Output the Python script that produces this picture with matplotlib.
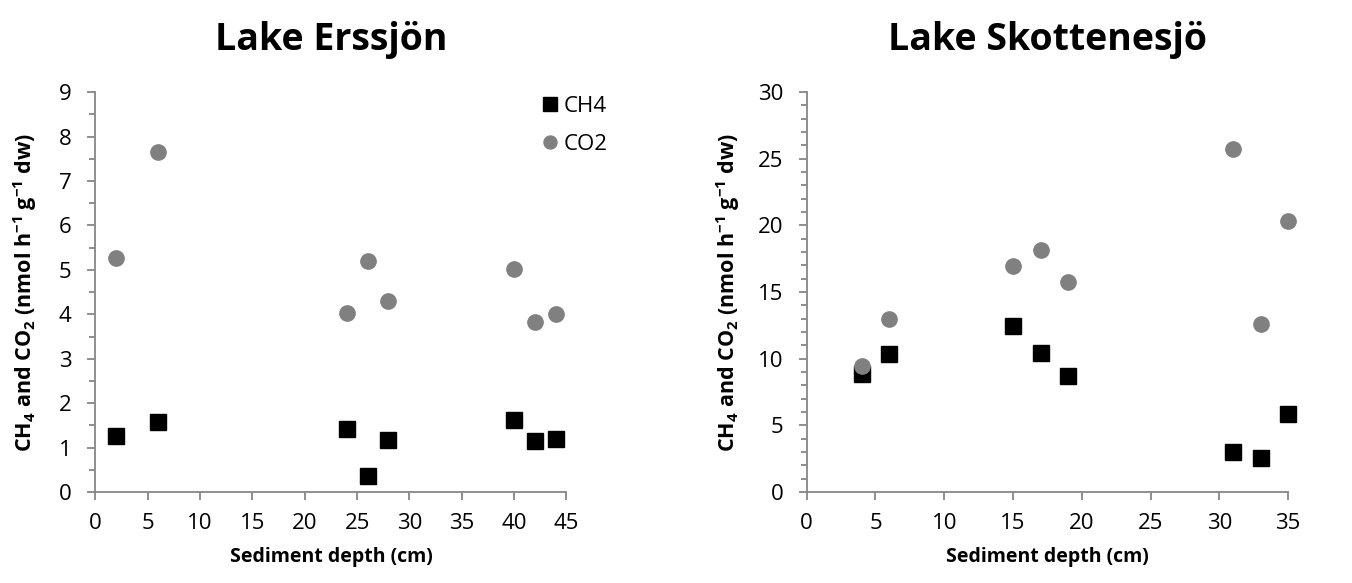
import matplotlib

matplotlib.use("Agg")

import matplotlib.pyplot as plt
from matplotlib.ticker import MultipleLocator

plt.rcParams["font.family"] = ["Open Sans", "DejaVu Sans"]
plt.rcParams["mathtext.fontset"] = "custom"
plt.rcParams["mathtext.rm"] = "Open Sans:bold"
plt.rcParams["mathtext.it"] = "Open Sans:bold"
plt.rcParams["mathtext.bf"] = "Open Sans:bold"

# Lake Erssjön
erss_depth = [2, 6, 24, 26, 28, 40, 42, 44]
erss_ch4 = [1.27, 1.57, 1.42, 0.36, 1.18, 1.63, 1.15, 1.19]
erss_co2 = [5.26, 7.65, 4.04, 5.19, 4.29, 5.02, 3.82, 4.00]

# Lake Skottenesjö
skot_depth = [4, 6, 15, 17, 19, 31, 33, 35]
skot_ch4 = [8.89, 10.34, 12.42, 10.44, 8.74, 2.97, 2.52, 5.82]
skot_co2 = [9.47, 12.99, 16.94, 18.14, 15.74, 25.73, 12.57, 20.31]

titles = ["Lake Erssjön", "Lake Skottenesjö"]
ylabel = r"CH$_{4}$ and CO$_{2}$ (nmol h$^{-1}$ g$^{-1}$ dw)"
xlabel = "Sediment depth (cm)"

SPINE = "#868686"
CO2_COLOR = "#808080"

fig = plt.figure(figsize=(13.52, 5.83), dpi=100)
ax1 = fig.add_axes([0.0705, 0.156, 0.3485, 0.686])
ax2 = fig.add_axes([0.5967, 0.156, 0.356, 0.686])

panels = [
    (ax1, erss_depth, erss_ch4, erss_co2, (0, 45), (0, 9), 1, 0.5, -0.149),
    (ax2, skot_depth, skot_ch4, skot_co2, (0, 35), (0, 30), 5, 1, -0.163),
]

for i, (ax, depth, ch4, co2, xlim, ylim, ymaj, ymin, ylab_x) in enumerate(panels):
    ax.plot(depth, ch4, ls="none", marker="s", ms=12, color="black",
            label="CH4", clip_on=False, zorder=3)
    ax.plot(depth, co2, ls="none", marker="o", ms=11, color=CO2_COLOR,
            mec=CO2_COLOR, label="CO2", clip_on=False, zorder=4)
    ax.set_xlim(*xlim)
    ax.set_ylim(*ylim)
    ax.xaxis.set_major_locator(MultipleLocator(5))
    ax.yaxis.set_major_locator(MultipleLocator(ymaj))
    ax.yaxis.set_minor_locator(MultipleLocator(ymin))
    for side in ["top", "right"]:
        ax.spines[side].set_visible(False)
    for side in ["left", "bottom"]:
        ax.spines[side].set_color(SPINE)
        ax.spines[side].set_linewidth(1.3)
    ax.tick_params(axis="both", which="major", direction="out", length=6,
                   width=1.3, color=SPINE, labelsize=16)
    ax.tick_params(axis="x", which="major", pad=9)
    ax.tick_params(axis="y", which="major", pad=11)
    ax.tick_params(axis="y", which="minor", direction="out", length=4,
                   width=1.3, color=SPINE)
    ax.set_xlabel(xlabel, fontsize=14, fontweight="bold", va="center")
    ax.set_ylabel(ylabel, fontsize=15.5, fontweight="bold", va="center")
    ax.xaxis.set_label_coords(0.5, -0.162)
    ax.yaxis.set_label_coords(ylab_x, 0.5)
    ax.set_title(titles[i], fontsize=27, fontweight="bold", pad=30)

ax1.legend(loc="upper right", bbox_to_anchor=(1.13, 1.04), frameon=False,
           fontsize=16, handletextpad=0.1, labelspacing=0.75,
           handlelength=1.0, markerscale=0.85)

fig.savefig("out.png", dpi=100)
